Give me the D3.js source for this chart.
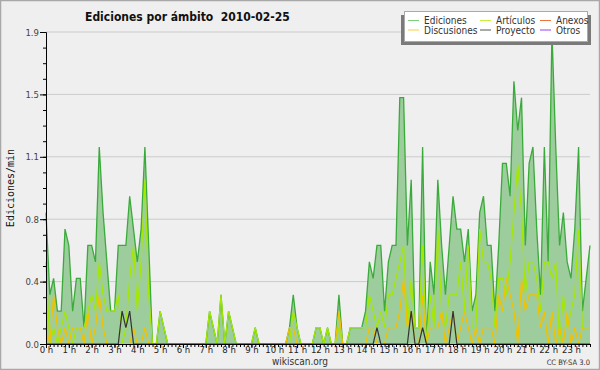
<!DOCTYPE html>
<html>
<head>
<meta charset="utf-8">
<script src="https://cdn.jsdelivr.net/npm/d3@7"></script>
<style>
  body { margin: 0; background: #efefef; }
  text { font-family: 'DejaVu Sans Condensed', 'DejaVu Sans', sans-serif; }
  .narrow { font-family: 'Liberation Sans Narrow', 'DejaVu Sans Condensed', sans-serif; }
</style>
</head>
<body>
<div class="canvas"></div>
<script>
// edits per minute, one value per 10 minute slot (00:00 ... 23:50)
const ediciones = [
  0.8,0.3,0.4,0.2,0.2,0.7,0.6,0.2,0.4,0.4,0.1,0.6,   // 0h-2h
  0.6,0.5,1.2,0.8,0.5,0.2,0.2,0.6,0.6,0.6,0.9,0.7,   // 2h-4h
  0.5,0.7,1.2,0.6,0,0,0.2,0.1,0,0,0,0,               // 4h-6h
  0,0,0,0,0,0,0,0.2,0.1,0,0.3,0,                     // 6h-8h
  0.2,0.1,0,0,0,0,0,0.1,0,0,0,0,                     // 8h-10h
  0,0,0,0,0.1,0.3,0.1,0,0,0,0,0.1,                   // 10h-12h
  0.1,0,0.1,0,0,0.3,0,0,0.1,0.1,0.1,0.1,             // 12h-14h
  0.2,0.5,0.4,0.6,0.6,0.2,0.5,0.6,0.6,1.5,1.5,0.6,   // 14h-16h
  1.0,0.1,0.1,1.2,0,0.5,0.3,1.0,0.6,0.3,0.6,0.9,     // 16h-18h
  0.7,0.7,0.5,0.7,0.2,0.3,0.8,0.9,0.6,0.6,0.2,0.6,   // 18h-20h
  1.1,1.1,0.9,1.6,1.3,1.5,0.6,1.1,1.2,0.7,0.3,1.2,   // 20h-22h
  0.5,1.9,1.2,0.6,0.8,0.5,0.4,0.7,1.2,0.2,0.4,0.6    // 22h-24h
];
const articulos = [
  0.5,0,0.1,0,0.1,0.2,0.1,0,0.1,0.1,0.1,0.2,
  0.3,0.2,0.5,0.3,0.2,0.2,0.2,0.3,0,0.1,0.4,0.6,
  0.2,0.5,1.0,0.3,0,0,0.2,0.1,0,0,0,0,
  0,0,0,0,0,0,0,0.2,0.1,0,0.3,0,
  0.2,0.1,0,0,0,0,0,0.1,0,0,0,0,
  0,0,0,0,0,0.2,0.1,0,0,0,0,0.1,
  0.1,0,0.1,0,0,0.1,0,0,0.1,0.1,0.1,0.1,
  0.1,0.3,0.2,0.1,0.2,0.1,0.3,0.3,0.4,0.5,0.6,0.1,
  0.4,0.1,0.1,0.6,0,0.3,0.1,0.7,0.2,0.1,0.3,0.3,
  0.3,0.5,0.2,0.6,0.1,0.1,0.7,0.5,0.5,0.4,0.1,0.4,
  0.4,0.3,0.5,0.8,1.1,0.8,0.3,0.5,0.5,0.4,0.2,0.5,
  0.5,0.4,0.5,0,0.3,0.1,0.2,0.3,0.7,0.1,0.1,0.1
];
const discusiones = [
  0.1,0,0.3,0.1,0,0.1,0,0.1,0.1,0.1,0,0.2,
  0,0.1,0.3,0.1,0,0,0,0,0,0,0,0.1,
  0,0,0.1,0,0,0,0,0,0,0,0,0,
  0,0,0,0,0,0,0,0,0,0,0,0,
  0,0,0,0,0,0,0,0,0,0,0,0,
  0,0,0,0,0.1,0.1,0,0,0,0,0,0,
  0,0,0,0,0,0.2,0,0,0,0,0,0,
  0,0.1,0.1,0,0,0,0.1,0.1,0.1,0.2,0.4,0.1,
  0.2,0,0,0.3,0,0.1,0.1,0.1,0.2,0,0.1,0.2,
  0,0.1,0.2,0.1,0,0.1,0,0.1,0.1,0.1,0,0.3,
  0.2,0.4,0.3,0.2,0,0.4,0.2,0.3,0.3,0.3,0.1,0.2,
  0,0.2,0,0.1,0,0.2,0,0.1,0,0.1,0.1,0.1
];
const proyecto = [
  0,0,0,0,0,0,0,0,0,0,0,0,
  0,0,0,0,0,0,0,0,0.2,0.1,0.2,0,
  0,0,0,0,0,0,0,0,0,0,0,0,
  0,0,0,0,0,0,0,0,0,0,0,0,
  0,0,0,0,0,0,0,0,0,0,0,0,
  0,0,0,0,0,0,0,0,0,0,0,0,
  0,0,0,0,0,0,0,0,0,0,0,0,
  0,0,0,0.1,0,0,0,0,0,0,0,0,
  0.2,0,0,0.1,0,0,0,0,0,0,0,0.2,
  0,0,0,0,0,0,0,0,0,0,0,0,
  0,0,0,0,0,0,0,0,0,0,0,0,
  0,0,0,0,0,0,0,0,0,0,0,0
];

const hourLabels = ['0 h','1 h','2 h','3 h','4 h','5 h','6 h','7 h','8 h','9 h','10 h','11 h',
  '12 h','13 h','14 h','15 h','16 h','17 h','18 h','19 h','20 h','21 h','22 h','23 h'];
const yLabels = ['0.0','0.4','0.8','1.1','1.5','1.9'];
const yMax = 1.9;

const legendItems = [
  {name: 'Ediciones', color: '#7fd07f'},
  {name: 'Artículos', color: '#c4f03c'},
  {name: 'Anexos', color: '#f0733c'},
  {name: 'Discusiones', color: '#f7d040'},
  {name: 'Proyecto', color: '#555555'},
  {name: 'Otros', color: '#9a40f0'}
];

// minutes since midnight for each slot
const slots = d3.range(0, 1440, 10);

const svg = d3.select('.canvas')
    .append('svg')
        .attr('width', 600)
        .attr('height', 370);

svg.append('rect')
    .attr('x', 0.5).attr('y', 0.5)
    .attr('width', 599).attr('height', 369)
    .attr('fill', '#efefef')
    .attr('stroke', '#a8a8a8')
    .attr('stroke-width', 1.5);

const margin = {top: 32, right: 10, bottom: 26, left: 46};
const graphWidth = 600 - margin.left - margin.right;
const graphHeight = 370 - margin.top - margin.bottom;

const graph = svg.append('g')
    .attr('transform', `translate(${margin.left},${margin.top})`);

const x = d3.scaleLinear()
    .domain([0, 1430])
    .range([0, graphWidth]);

const y = d3.scaleLinear()
    .domain([0, yMax])
    .range([graphHeight, 0]);

const majorY = yLabels.map((l, i) => yMax * i / (yLabels.length - 1));

// grid
graph.append('g')
    .selectAll('line')
    .data(majorY.slice(1))
    .enter().append('line')
        .attr('x1', 0).attr('x2', graphWidth)
        .attr('y1', d => y(d)).attr('y2', d => y(d))
        .attr('stroke', '#cbcbcb')
        .attr('stroke-width', 1);

// Ediciones as filled area
const area = d3.area()
    .x((d, i) => x(slots[i]))
    .y0(y(0))
    .y1(d => y(d));

const line = d3.line()
    .x((d, i) => x(slots[i]))
    .y(d => y(d));

graph.append('path')
    .datum(ediciones)
    .attr('d', area)
    .attr('fill', '#9dcc9d');

graph.append('path')
    .datum(ediciones)
    .attr('d', line)
    .attr('fill', 'none')
    .attr('stroke', '#3aab3a')
    .attr('stroke-width', 1.3);

const lines = [
  {data: articulos, color: '#a6e800'},
  {data: discusiones, color: '#f2c200'},
  {data: proyecto, color: '#333333'}
];

graph.selectAll('.serie')
    .data(lines)
    .enter().append('path')
        .attr('class', 'serie')
        .attr('d', d => line(d.data))
        .attr('fill', 'none')
        .attr('stroke', d => d.color)
        .attr('stroke-width', 1.2);

// axes
const xAxisMinor = d3.axisBottom(x).tickValues(slots).tickSize(3).tickSizeOuter(0).tickFormat('');
const xAxis = d3.axisBottom(x)
    .tickValues(hourLabels.map((l, i) => i * 60))
    .tickFormat((d, i) => hourLabels[i])
    .tickSize(4)
    .tickSizeOuter(0);

const yAxisMinor = d3.axisLeft(y)
    .tickValues(d3.range(0, 21).map(k => yMax * k / 20))
    .tickSize(3).tickSizeOuter(0).tickFormat('');
const yAxis = d3.axisLeft(y)
    .tickValues(majorY)
    .tickFormat((d, i) => yLabels[i])
    .tickSize(6)
    .tickSizeOuter(0);

const xAxisGroup = graph.append('g')
    .attr('transform', `translate(0, ${graphHeight})`);
xAxisGroup.append('g').call(xAxisMinor);
xAxisGroup.append('g').call(xAxis);

const yAxisGroup = graph.append('g');
yAxisGroup.append('g').call(yAxisMinor);
yAxisGroup.append('g').call(yAxis);

svg.selectAll('.domain').attr('stroke', '#000');
svg.selectAll('.tick line').attr('stroke', '#000');
xAxisGroup.selectAll('text')
    .attr('class', 'narrow')
    .attr('y', 9)
    .attr('dy', 0)
    .style('font-size', '9.5px')
    .attr('fill', '#222');
yAxisGroup.selectAll('text')
    .attr('class', 'narrow')
    .attr('x', -7)
    .style('font-size', '9.5px')
    .attr('fill', '#444');

// titles
svg.append('text')
    .attr('x', 85)
    .attr('y', 21)
    .style('white-space', 'pre')
    .style('font-size', '12px')
    .style('font-weight', 'bold')
    .attr('fill', '#111')
    .text('Ediciones por ámbito  2010-02-25');

svg.append('text')
    .attr('transform', 'translate(14, 188) rotate(-90)')
    .attr('text-anchor', 'middle')
    .style('font-family', "'DejaVu Sans Mono', monospace")
    .style('font-size', '10px')
    .attr('fill', '#111')
    .text('Ediciones/min');

svg.append('text')
    .attr('x', 300)
    .attr('y', 365)
    .attr('text-anchor', 'middle')
    .style('font-size', '10px')
    .attr('fill', '#333')
    .text('wikiscan.org');

svg.append('text')
    .attr('x', 590)
    .attr('y', 365)
    .attr('text-anchor', 'end')
    .style('font-size', '7.5px')
    .attr('fill', '#333')
    .text('CC BY-SA 3.0');

// legend
const legend = svg.append('g')
    .attr('transform', 'translate(404, 11)');

legend.append('rect')
    .attr('x', -3).attr('y', 4)
    .attr('width', 190).attr('height', 30)
    .attr('fill', '#7a7a7a');
legend.append('rect')
    .attr('x', 0.5).attr('y', 0.5)
    .attr('width', 183).attr('height', 30)
    .attr('fill', '#fff')
    .attr('stroke', '#aaa');

const colX = [4, 76, 136];
const items = legend.selectAll('.item')
    .data(legendItems)
    .enter().append('g')
        .attr('class', 'item')
        .attr('transform', (d, i) => `translate(${colX[i % 3]}, ${i < 3 ? 9.5 : 19})`);

items.append('line')
    .attr('x1', 0).attr('x2', 11)
    .attr('y1', 0).attr('y2', 0)
    .attr('stroke', d => d.color)
    .attr('stroke-width', 1);

items.append('text')
    .attr('x', 16)
    .attr('y', 3.5)
    .style('font-size', '10px')
    .attr('fill', '#333')
    .text(d => d.name);
</script>
</body>
</html>
